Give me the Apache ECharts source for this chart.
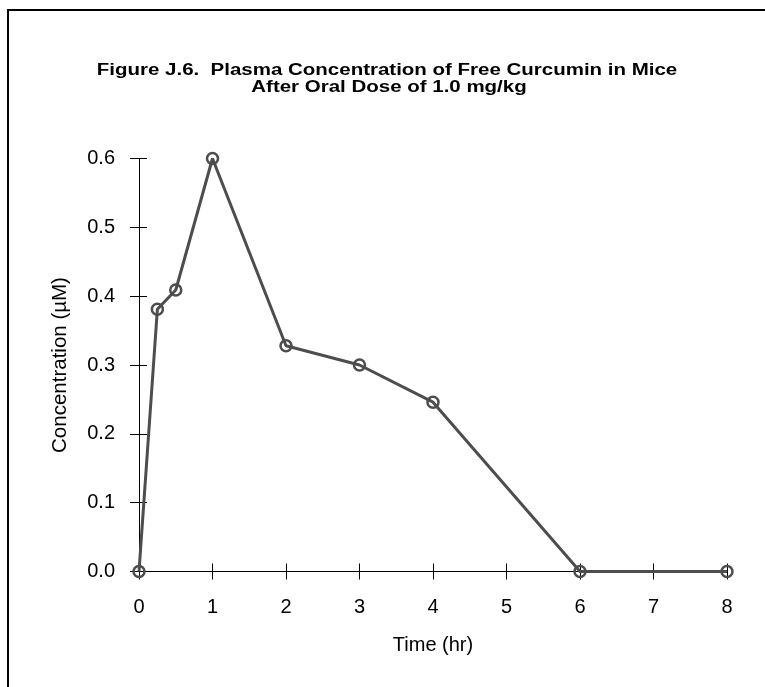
<!DOCTYPE html>
<html>
<head>
<meta charset="utf-8">
<script src="https://cdn.jsdelivr.net/npm/echarts@6/dist/echarts.min.js"></script>
<style>
html,body{margin:0;padding:0;background:#fff;}
#chart{width:765px;height:687px;}
</style>
</head>
<body>
<div id="chart"></div>
<script>
var titleLines = ['Figure J.6.  Plasma Concentration of Free Curcumin in Mice', 'After Oral Dose of 1.0 mg/kg'];
var xName = 'Time (hr)';
var yName = 'Concentration (\u00b5M)';
var timeHr = [0, 0.25, 0.5, 1, 2, 3, 4, 6, 8];
var concentration = [0, 0.381, 0.409, 0.6, 0.328, 0.300, 0.246, 0, 0];
var xTicks = [0, 1, 2, 3, 4, 5, 6, 7, 8];
var yTicks = [0.0, 0.1, 0.2, 0.3, 0.4, 0.5, 0.6];

var FONT = '"Liberation Sans", Arial, sans-serif';
var chart = echarts.init(document.getElementById('chart'), null, {renderer: 'canvas'});

var points = timeHr.map(function (t, i) { return [t, concentration[i]]; });

var baseX = {
  type: 'value', min: xTicks[0], max: xTicks[xTicks.length - 1], interval: 1,
  position: 'bottom', splitLine: {show: false},
  axisLine: {show: true, onZero: false, lineStyle: {color: '#000', width: 1}}
};
var baseY = {
  type: 'value', min: yTicks[0], max: yTicks[yTicks.length - 1], interval: 0.1,
  position: 'left', splitLine: {show: false},
  axisLine: {show: true, onZero: false, lineStyle: {color: '#000', width: 1}}
};

var option = {
  animation: false,
  backgroundColor: '#fff',
  graphic: [
    {type: 'line', shape: {x1: 7, y1: 10, x2: 765, y2: 10}, style: {stroke: '#000', lineWidth: 2}},
    {type: 'line', shape: {x1: 8, y1: 10, x2: 8, y2: 687}, style: {stroke: '#000', lineWidth: 2}},
    {type: 'text', x: 387, y: 70.5, scaleX: 1.28, style: {text: titleLines[0], align: 'center', verticalAlign: 'middle',
      font: 'bold 16px ' + FONT, fill: '#000'}},
    {type: 'text', x: 389, y: 87.5, scaleX: 1.28, style: {text: titleLines[1], align: 'center', verticalAlign: 'middle',
      font: 'bold 16px ' + FONT, fill: '#000'}}
  ],
  grid: {left: 139, right: 38, top: 158.5, bottom: 115.5, containLabel: false},
  xAxis: [
    Object.assign({}, baseX, {
      name: xName, nameLocation: 'middle', nameGap: 64,
      nameTextStyle: {fontFamily: FONT, fontSize: 20, color: '#000'},
      axisTick: {show: true, inside: false, length: 8, lineStyle: {color: '#000'}},
      axisLabel: {show: true, margin: 26, fontFamily: FONT, fontSize: 20, color: '#000',
        formatter: function (v) { return String(v); }}
    }),
    Object.assign({}, baseX, {
      axisTick: {show: true, inside: true, length: 8, lineStyle: {color: '#000'}},
      axisLabel: {show: false}
    })
  ],
  yAxis: [
    Object.assign({}, baseY, {
      name: yName, nameLocation: 'middle', nameGap: 68, nameRotate: 90,
      nameTextStyle: {fontFamily: FONT, fontSize: 20.5, color: '#000'},
      axisTick: {show: true, inside: false, length: 9, lineStyle: {color: '#000'}},
      axisLabel: {show: true, margin: 24, fontFamily: FONT, fontSize: 20, color: '#000',
        formatter: function (v) { return v.toFixed(1); }}
    }),
    Object.assign({}, baseY, {
      axisTick: {show: true, inside: true, length: 8, lineStyle: {color: '#000'}},
      axisLabel: {show: false}
    })
  ],
  series: [{
    type: 'line', xAxisIndex: 0, yAxisIndex: 0,
    data: points,
    symbol: 'circle', symbolSize: 11,
    lineStyle: {color: '#4d4d4d', width: 3},
    itemStyle: {color: 'rgba(255,255,255,0)', borderColor: '#4d4d4d', borderWidth: 2.5},
    z: 5
  }]
};
chart.setOption(option);
</script>
</body>
</html>
